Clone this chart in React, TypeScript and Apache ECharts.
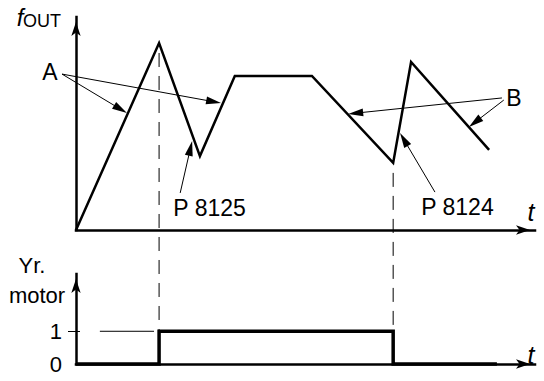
import React, { useEffect, useRef } from 'react';
import * as echarts from 'echarts';

// f_OUT curve (time units 0..100, frequency units 0..100)
const fTime = [0, 18.1, 27.0, 34.6, 51.4, 69.1, 73.0, 90.0];
const fValue = [0, 87.8, 34.7, 72.3, 72.3, 31.5, 78.9, 37.6];

// Motor state (0 / 1) step signal
const motorTime = [0, 18.1, 18.1, 69.1, 69.1, 91.7];
const motorState = [0, 0, 1, 1, 0, 0];
const motorTickLabels = ['0', '1'];

// Level-1 reference marks on the motor axis
const levelTickTime = [-1.74, 0.87];
const levelDashTime = [5.2, 17.0];

// Vertical guides: from the f curve down to motor level 1
const guideTime = [18.1, 69.1];
const guideTopValue = [87.8, 31.5];

// Annotation arrows in f-chart data units: [fromX, fromY, toX, toY]
const arrowNames = ['A1', 'A2', 'P8125', 'B1', 'B2', 'P8124'];
const arrowFromX = [-3.05, -3.05, 22.7, 92.8, 93.2, 78.2];
const arrowFromY = [73.2, 73.2, 17.4, 62.0, 61.0, 17.8];
const arrowToX = [11.1, 31.6, 25.3, 59.3, 85.6, 70.6];
const arrowToY = [54.9, 59.6, 41.8, 54.5, 48.4, 45.5];

// Annotation labels in f-chart data units
const labelTexts = ['A', 'B', 'P 8125', 'P 8124'];
const labelX = [-5.66, 95.4, 29.1, 83.1];
const labelY = [74.2, 62.0, 10.3, 10.8];

const FONT = '"Liberation Sans", Arial, Helvetica, sans-serif';

export default function App() {
  const ref = useRef<HTMLDivElement>(null);

  useEffect(() => {
    const chart = echarts.init(ref.current!, null, { renderer: 'svg' });

    const axisLine = {
      show: true,
      symbol: ['none', 'arrow'],
      symbolSize: [7, 14],
      symbolOffset: [0, -5],
      lineStyle: { color: '#000', width: 2.5, cap: 'square' },
    };
    const bareAxis = {
      type: 'value',
      axisLine,
      axisTick: { show: false },
      axisLabel: { show: false },
      splitLine: { show: false },
    };

    chart.setOption({
      animation: false,
      backgroundColor: '#fff',
      grid: [
        { left: 76, top: 17, width: 459, height: 213 },
        { left: 76, top: 274, width: 459, height: 90 },
      ],
      xAxis: [
        { ...bareAxis, gridIndex: 0, min: 0, max: 100 },
        { ...bareAxis, gridIndex: 1, min: 0, max: 100 },
      ],
      yAxis: [
        { ...bareAxis, gridIndex: 0, min: 0, max: 100 },
        {
          ...bareAxis,
          gridIndex: 1,
          min: 0,
          max: 2.75,
          interval: 1,
          axisLabel: {
            show: true,
            color: '#000',
            fontSize: 22,
            fontFamily: FONT,
            margin: 14,
            formatter: (v: number) => (v === 0 || v === 1 ? motorTickLabels[v] : ''),
          },
        },
      ],
      series: [
        {
          type: 'line',
          xAxisIndex: 0,
          yAxisIndex: 0,
          data: fTime.map((t, i) => [t, fValue[i]]),
          showSymbol: false,
          lineStyle: { color: '#000', width: 2.5, join: 'miter' },
          clip: false,
        },
        {
          type: 'line',
          xAxisIndex: 1,
          yAxisIndex: 1,
          data: motorTime.map((t, i) => [t, motorState[i]]),
          showSymbol: false,
          lineStyle: { color: '#000', width: 3.5, join: 'miter' },
          clip: false,
          z: 3,
        },
        {
          type: 'line',
          xAxisIndex: 1,
          yAxisIndex: 1,
          data: levelDashTime.map((t) => [t, 1]),
          showSymbol: false,
          lineStyle: { color: '#000', width: 1 },
          clip: false,
        },
      ],
    });

    const top = (x: number, y: number) => chart.convertToPixel({ gridIndex: 0 }, [x, y]) as number[];
    const bot = (x: number, y: number) => chart.convertToPixel({ gridIndex: 1 }, [x, y]) as number[];

    const graphics: any[] = [];

    // level-1 tick crossing the motor axis
    {
      const p1 = bot(levelTickTime[0], 1);
      const p2 = bot(levelTickTime[1], 1);
      const y = Math.round(p1[1]) + 0.5;
      graphics.push({
        type: 'line',
        shape: { x1: p1[0], y1: y, x2: p2[0], y2: y },
        style: { stroke: '#000', lineWidth: 1 },
        silent: true,
        z: 10,
      });
    }

    // vertical dashed guides
    guideTime.forEach((t, i) => {
      const p1 = top(t, guideTopValue[i]);
      const p2 = bot(t, 1);
      graphics.push({
        type: 'line',
        shape: { x1: p1[0], y1: p1[1] + 10, x2: p2[0], y2: p2[1] },
        style: { stroke: '#000', lineWidth: 1, lineDash: [14, 9] },
        silent: true,
      });
    });

    // annotation arrows
    arrowNames.forEach((_, i) => {
      const a = top(arrowFromX[i], arrowFromY[i]);
      const b = top(arrowToX[i], arrowToY[i]);
      const dx = b[0] - a[0];
      const dy = b[1] - a[1];
      const len = Math.sqrt(dx * dx + dy * dy);
      const ux = dx / len;
      const uy = dy / len;
      const headLen = 15;
      const headHalf = 4;
      const bx = b[0] - ux * headLen;
      const by = b[1] - uy * headLen;
      graphics.push({
        type: 'line',
        shape: { x1: a[0], y1: a[1], x2: bx + ux * 2, y2: by + uy * 2 },
        style: { stroke: '#000', lineWidth: 1 },
        silent: true,
      });
      graphics.push({
        type: 'polygon',
        shape: {
          points: [
            [b[0], b[1]],
            [bx - uy * headHalf, by + ux * headHalf],
            [bx + uy * headHalf, by - ux * headHalf],
          ],
        },
        style: { fill: '#000' },
        silent: true,
      });
    });

    // annotation labels
    labelTexts.forEach((txt, i) => {
      const p = top(labelX[i], labelY[i]);
      graphics.push({
        type: 'text',
        x: p[0],
        y: p[1],
        style: {
          text: txt,
          fill: '#000',
          font: `23px ${FONT}`,
          align: 'center',
          verticalAlign: 'middle',
        },
        silent: true,
      });
    });

    // axis titles
    const titles = [
      { text: 'f', x: 20, y: 17, font: `italic 24px ${FONT}`, align: 'center' },
      { text: 'OUT', x: 23, y: 21, font: `18px ${FONT}`, align: 'left' },
      { text: 't', x: 531, y: 212, font: `italic 25px ${FONT}`, align: 'center' },
      { text: 't', x: 531, y: 355, font: `italic 25px ${FONT}`, align: 'center' },
      { text: 'Yr.', x: 32, y: 265, font: `22px ${FONT}`, align: 'center' },
      { text: 'motor', x: 37, y: 295, font: `22px ${FONT}`, align: 'center' },
    ];
    titles.forEach((t) => {
      graphics.push({
        type: 'text',
        x: t.x,
        y: t.y,
        style: { text: t.text, fill: '#000', font: t.font, align: t.align, verticalAlign: 'middle' },
        silent: true,
      });
    });

    chart.setOption({ graphic: graphics });

    return () => chart.dispose();
  }, []);

  return (
    <div
      ref={ref}
      style={{ position: 'fixed', left: 0, top: 0, width: 544, height: 381, background: '#fff' }}
    />
  );
}
